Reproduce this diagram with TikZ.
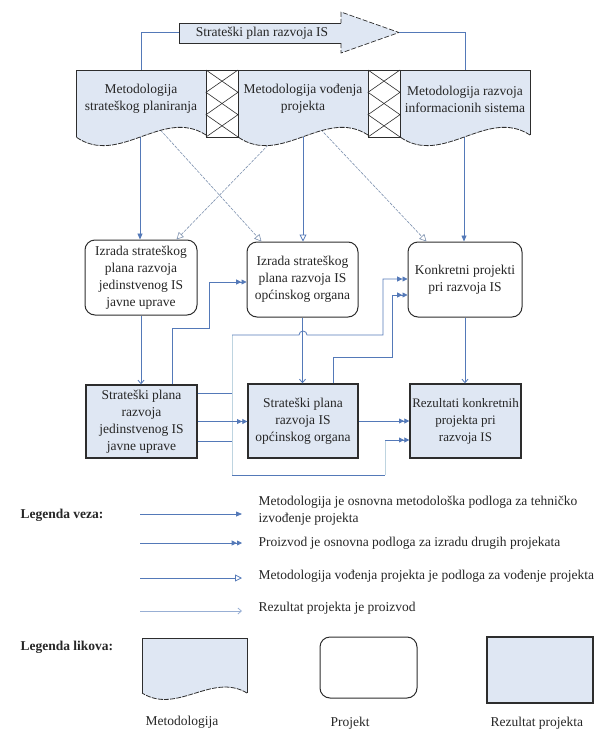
\documentclass[tikz,border=0pt]{standalone}
\usepackage{fontspec}
\setmainfont{Liberation Serif}
\usetikzlibrary{arrows.meta,calc}
\definecolor{lnblue}{RGB}{84,121,184}
\definecolor{lnfaint}{RGB}{190,212,224}
\definecolor{fillblue}{RGB}{223,231,243}
\definecolor{bord}{RGB}{45,45,45}
\definecolor{diagc}{RGB}{125,145,175}
\newcommand\docshape[1]{%
  \begin{scope}[shift={(#1,0)}]
    \fill[fillblue] (0,70) -- (130,70) -- (130,135) .. controls (87,107) and (43,167) .. (0,137) -- cycle;
    \draw[bord,line width=0.8pt] (0,137) -- (0,70) -- (130,70) -- (130,135);
    \draw[bord,line width=0.8pt,dash pattern=on 5pt off 1.2pt] (130,135) .. controls (87,107) and (43,167) .. (0,137);
  \end{scope}}
\newcommand\linkbox[1]{%
  \begin{scope}[shift={(#1,0)}]
    \draw[bord,line width=0.8pt,fill=white] (0,70) rectangle (32,137);
    \draw[bord,line width=0.6pt] (0,70) -- (32,92.3) -- (0,114.7) -- (32,137);
    \draw[bord,line width=0.6pt] (32,70) -- (0,92.3) -- (32,114.7) -- (0,137);
  \end{scope}}
\begin{document}
\begin{tikzpicture}[x=1pt,y=-1pt,
  every node/.style={font=\fontsize{13.5}{17}\selectfont, text=black!85},
  lnk/.style={lnblue, line width=0.8pt},
  faintln/.style={lnfaint, line width=0.8pt},
  conA/.style={lnk, -{Triangle[length=6pt,width=5pt]}},
  conB/.style={lnk, -{Triangle[length=5pt,width=5pt,sep=0.3pt] Triangle[length=5pt,width=5pt]}},
  conC/.style={lnk, -{Triangle[open,length=7pt,width=7pt]}},
  conD/.style={lnk, -{Straight Barb[length=3.5pt,width=6pt]}},
  diagln/.style={diagc, line width=0.6pt, dash pattern=on 3pt off 1.2pt, -{Triangle[open,length=7pt,width=7pt]}},
  proj/.style={draw=bord, line width=1pt, fill=white, rounded corners=10pt, align=center, inner sep=0pt},
  res/.style={draw=bord, line width=1.4pt, fill=fillblue, align=center, inner sep=0pt},
  legtxt/.style={anchor=west, align=left},
  legbold/.style={anchor=west, font=\fontsize{13.5}{17}\selectfont\bfseries}
]
\useasboundingbox (0,0) rectangle (598,731);

% ---------- top arrow ----------
\fill[fillblue] (179,23) -- (341,23) -- (341,12) -- (399,32.5) -- (341,53) -- (341,43) -- (179,43) -- cycle;
\draw[bord,line width=0.7pt] (341,23) -- (179,23) -- (179,43) -- (341,43);
\draw[bord,line width=0.7pt,dash pattern=on 5pt off 2pt] (341,43) -- (341,53) -- (399,32.5) -- (341,12) -- (341,23);
\node (plan) at (262,33) {Strateški plan razvoja IS};
\coordinate (atail) at (179,32.5);
\coordinate (atip) at (399,32.5);
\coordinate (m1t) at (141,70);
\coordinate (m3t) at (465,70);
\draw[lnk] (m1t) |- (atail);
\draw[lnk] (atip) -| (m3t);

% ---------- project and result boxes ----------
\node[proj, minimum width=112pt, minimum height=75pt] (p1) at (141,277.5) {Izrada strateškog\\plana razvoja\\jedinstvenog IS\\javne uprave};
\node[proj, minimum width=111pt, minimum height=75pt] (p2) at (302.5,279.5) {Izrada strateškog\\plana razvoja IS\\općinskog organa};
\node[proj, minimum width=114pt, minimum height=75pt] (p3) at (465,279.5) {Konkretni projekti\\pri razvoja IS};
\node[res, minimum width=111pt, minimum height=73pt] (r1) at (141.5,421.5) {Strateški plana\\razvoja\\jedinstvenog IS\\javne uprave};
\node[res, minimum width=110pt, minimum height=74pt] (r2) at (303,421) {Strateški plana\\razvoja IS\\općinskog organa};
\node[res, minimum width=111pt, minimum height=74pt, font=\fontsize{13}{17}\selectfont] (r3) at (465.5,421) {Rezultati konkretnih\\projekta pri\\razvoja IS};

% ---------- methodology -> project ----------
\coordinate (m1b) at (140,120);
\coordinate (m2b) at (303,120);
\coordinate (m3b) at (464,120);
\draw[conA] (m1b) -- (m1b |- p1.north);
\draw[conC] (m2b) -- (m2b |- p2.north);
\draw[conA] (m3b) -- (m3b |- p3.north);
\coordinate (d1s) at (155,124);
\coordinate (d2s) at (274,139);
\coordinate (d3s) at (318,126.5);
\draw[diagln] (d1s) -- ($(p2.north west)+(15,0)$);
\draw[diagln] (d2s) -- ($(p1.north west)+(92,0)$);
\draw[diagln] (d3s) -- ($(p3.north west)+(19,0)$);

% ---------- project -> result ----------
\draw[conD] (p1.south) -- (p1.south |- r1.north);
\draw[conD] (p2.south) -- (p2.south |- r2.north);
\draw[conD] (p3.south) -- (p3.south |- r3.north);

% ---------- result -> project / result ----------
\draw[conB] ($(r1.north west)+(87,0)$) -- ++(0,-56) -- ++(37,0) |- ($(p2.west)+(0,2.5)$);
\draw[conB] ($(r2.north west)+(86,0)$) -- ++(0,-26) -- ++(59,0) |- ($(p3.west)+(0,15.5)$);
\coordinate (j1) at (232,335);
\coordinate (j2) at (232,475);
\coordinate (j3) at (385,475);
\coordinate (j4) at (385,440);
\draw[lnk] ($(r1.north east)+(0,9)$) -- ++(35,0);
\draw[lnk] ($(r1.north east)+(0,57)$) -- ++(35,0);
\draw[faintln] (j1) -- (j2);
\draw[lnk] (j2) -- (j3);
\draw[faintln] (j3) -- (j4);
\draw[conB] (j1) -- (299,335) arc[start angle=180,end angle=0,radius=4pt] -- (383,335) |- ($(p3.west)+(0,-0.5)$);
\draw[conB] (j4) -- (j4 -| r3.west);
\draw[conB] (r1.east) -- (r1.east -| r2.west);
\draw[conB] (r2.east) -- (r2.east -| r3.west);

% ---------- methodology boxes ----------
\docshape{76}
\docshape{238}
\docshape{400}
\linkbox{206}
\linkbox{368}
\node[align=center] (m1) at (141,99) {Metodologija\\strateškog planiranja};
\node[align=center] (m2) at (303,99) {Metodologija vođenja\\projekta};
\node[align=center] (m3) at (465,99) {Metodologija razvoja\\informacionih sistema};

% ---------- legend of connectors ----------
\node[legbold] (lv) at (17,515) {Legenda veza:};
\node[legtxt] (lt1) at (255,511) {Metodologija je osnovna metodološka podloga za tehničko\\izvođenje projekta};
\node[legtxt] (lt2) at (255,543) {Proizvod je osnovna podloga za izradu drugih projekata};
\node[legtxt] (lt3) at (255,576) {Metodologija vođenja projekta je podloga za vođenje projekta};
\node[legtxt] (lt4) at (255,608) {Rezultat projekta je proizvod};
\coordinate (la1) at (140,514); \coordinate (lb1) at (242,514);
\coordinate (la2) at (140,543); \coordinate (lb2) at (242,543);
\coordinate (la3) at (140,578); \coordinate (lb3) at (242,578);
\coordinate (la4) at (140,611); \coordinate (lb4) at (242,611);
\draw[conA] (la1) -- (lb1);
\draw[conB] (la2) -- (lb2);
\draw[conC] (la3) -- (lb3);
\draw[conD, draw=lnblue!60] (la4) -- (lb4);

% ---------- legend of shapes ----------
\node[legbold] (ll) at (17,647) {Legenda likova:};
\fill[fillblue] (142,638) -- (247,638) -- (247,693) .. controls (212,672) and (177,715) .. (142,693) -- cycle;
\draw[bord,line width=0.8pt] (142,693) -- (142,638) -- (247,638) -- (247,693);
\draw[bord,line width=0.8pt,dash pattern=on 5pt off 1.2pt] (247,693) .. controls (212,672) and (177,715) .. (142,693);
\node[proj, minimum width=97pt, minimum height=61pt] (lp) at (368.5,667.5) {};
\node[res, line width=1.1pt, minimum width=106pt, minimum height=66pt] (lr) at (540,670) {};
\node[anchor=west] (lm) at (142,722) {Metodologija};
\node (lpj) at (350,723) {Projekt};
\node[anchor=west] (lrp) at (487,723) {Rezultat projekta};
\end{tikzpicture}
\end{document}
